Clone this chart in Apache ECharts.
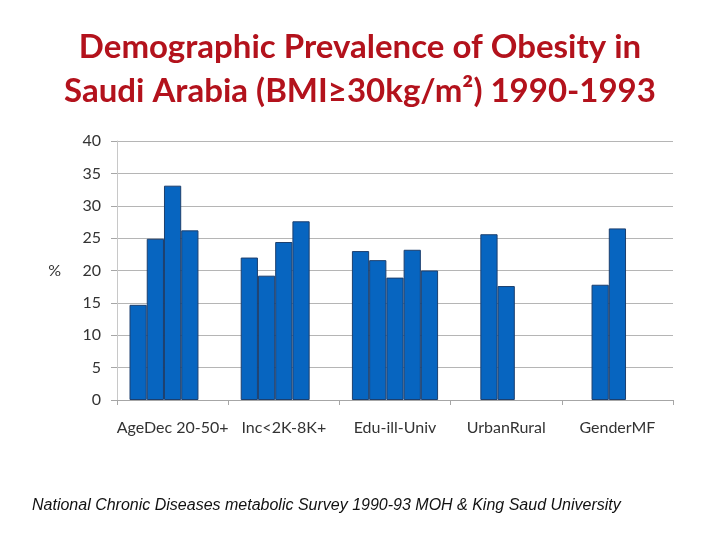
<!DOCTYPE html>
<html>
<head>
<meta charset="utf-8">
<script src="https://cdn.jsdelivr.net/npm/echarts@6/dist/echarts.min.js"></script>
<style>html,body{margin:0;padding:0;background:#fff}#c{width:720px;height:540px}</style>
</head>
<body>
<div id="c"></div>
<script>
var categories = ['AgeDec 20-50+', 'Inc<2K-8K+', 'Edu-ill-Univ', 'UrbanRural', 'GenderMF'];
var bar1 = [14.7, 22.0, 23.0, null, null];
var bar2 = [24.9, 19.2, 21.6, 25.6, 17.8];
var bar3 = [33.1, 24.4, 18.9, 17.6, 26.5];
var bar4 = [26.2, 27.6, 23.2, null, null];
var bar5 = [null, null, 20.0, null, null];
var yTicks = {min: 0, max: 40, interval: 5};

var chart = echarts.init(document.getElementById('c'));
var barStyle = {color: '#0765C0', borderColor: '#1C3F6E', borderWidth: 1};
function mk(d) {
  return {type: 'bar', data: d, barGap: '0%', barCategoryGap: '22.5%', itemStyle: barStyle, silent: true};
}
chart.setOption({
  animation: false,
  backgroundColor: '#ffffff',
  title: {
    text: 'Demographic Prevalence of Obesity in\nSaudi Arabia (BMI≥30kg/m²) 1990-1993',
    left: 'center', top: 20,
    textStyle: {fontFamily: 'Lato', fontWeight: 'bold', fontSize: 33, color: '#B3121C', lineHeight: 44}
  },
  grid: {left: 117, right: 47, top: 141, bottom: 140},
  xAxis: {
    type: 'category', data: categories,
    axisLine: {lineStyle: {color: '#A6A6A6'}},
    axisTick: {show: true, length: 5, lineStyle: {color: '#A6A6A6'}},
    axisLabel: {interval: 0, fontFamily: 'Lato', fontSize: 16, color: '#333333', margin: 20}
  },
  yAxis: {
    type: 'value', min: yTicks.min, max: yTicks.max, interval: yTicks.interval,
    name: '%', nameLocation: 'middle', nameRotate: 0, nameGap: 56,
    nameTextStyle: {fontFamily: 'Lato', fontSize: 16, color: '#333333'},
    axisLine: {show: true, lineStyle: {color: '#C8C8C8'}},
    axisTick: {show: true, length: 6, lineStyle: {color: '#A6A6A6'}},
    splitLine: {lineStyle: {color: '#B5B5B5'}},
    axisLabel: {fontFamily: 'Lato', fontSize: 16, color: '#333333', margin: 16}
  },
  series: [mk(bar1), mk(bar2), mk(bar3), mk(bar4), mk(bar5)],
  graphic: [{
    type: 'text', left: 32, top: 498,
    style: {text: 'National Chronic Diseases metabolic Survey 1990-93 MOH & King Saud University',
      font: 'italic 16px "Liberation Sans"', fill: '#111111'}
  }]
});
</script>
</body>
</html>
